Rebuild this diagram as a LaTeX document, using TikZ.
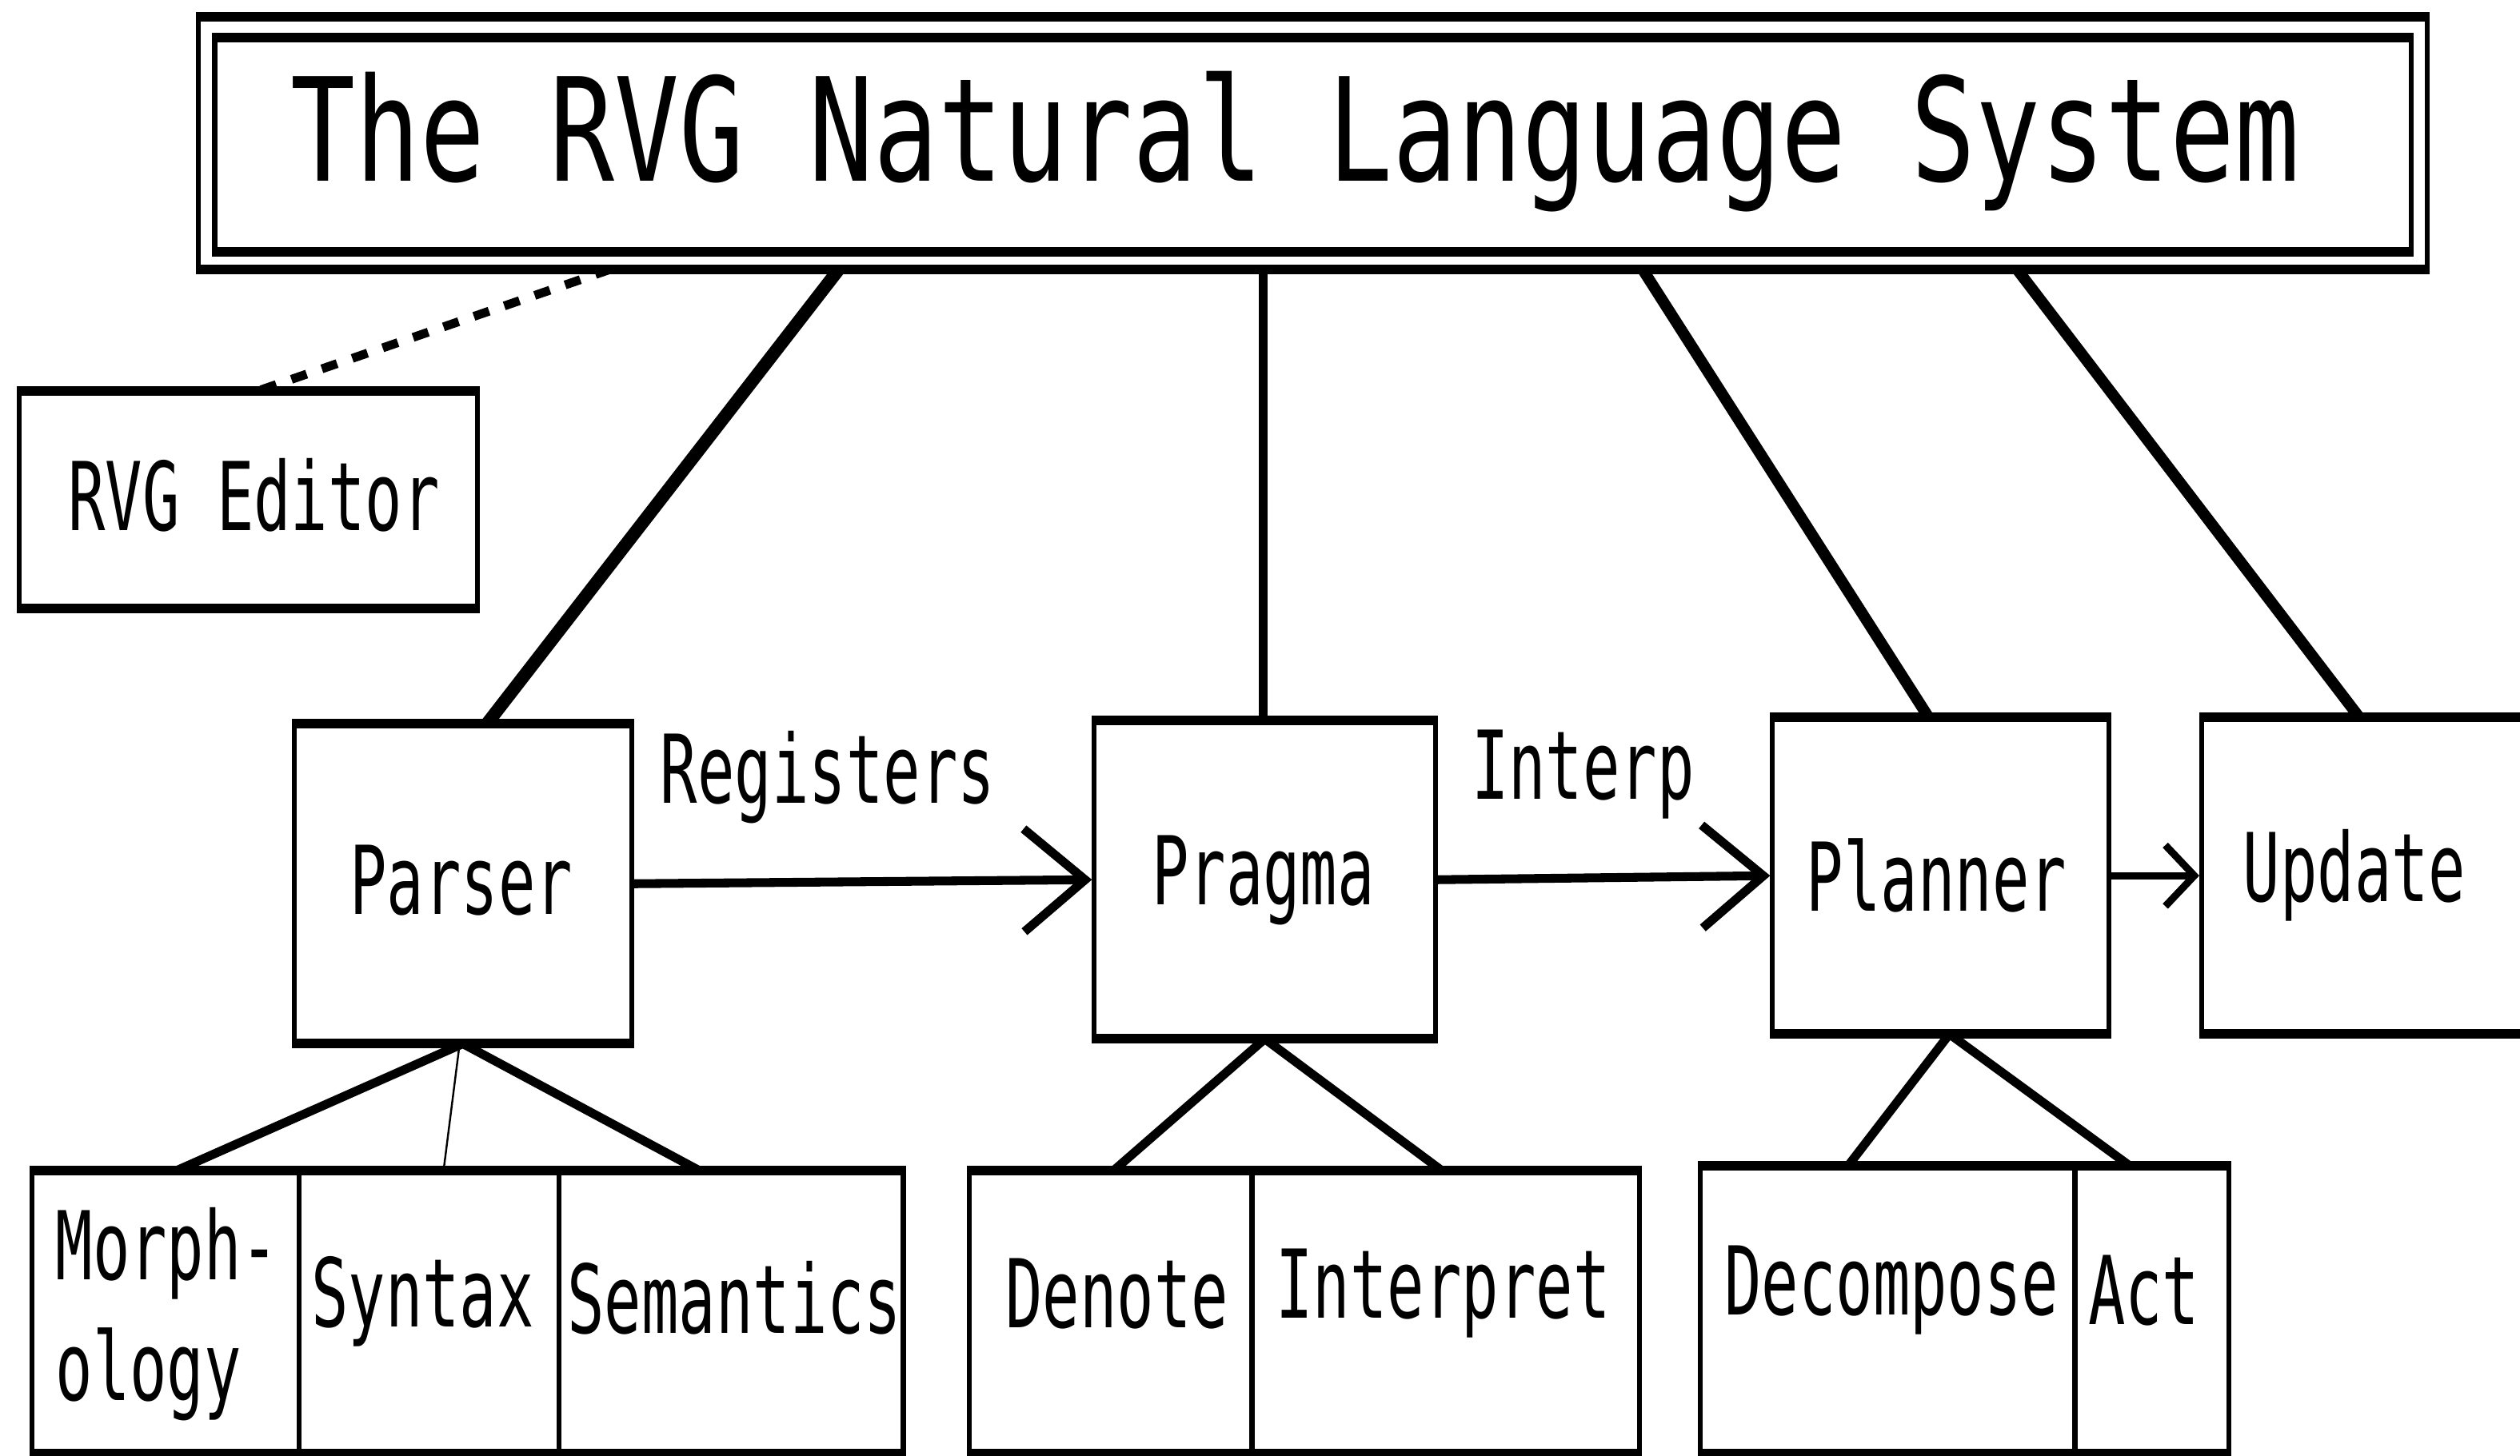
\documentclass[tikz,border=0pt]{standalone}
\usepackage{fontspec}
\usetikzlibrary{arrows.meta}
\newfontfamily\pixsmall[FakeStretch=0.65]{DejaVu Sans Mono}
\newfontfamily\pixbig[FakeStretch=0.75]{DejaVu Sans Mono}
\newcommand\hedges[1]{\draw[hline] (#1.north west) -- (#1.north east) (#1.south west) -- (#1.south east);}
\begin{document}
\begin{tikzpicture}[x=0.01cm,y=-0.01cm,
  box/.style={draw, line width=0.03cm, inner sep=0pt, anchor=center},
  hline/.style={line width=0.06cm},
  lbl/.style={inner sep=0pt, font=\pixsmall\fontsize{16.8}{21}\selectfont},
  ttl/.style={inner sep=0pt, font=\pixbig\fontsize{25.4}{30}\selectfont},
  heavy/.style={line width=0.08cm},
  medium/.style={line width=0.07cm},
  stem/.style={line width=0.05cm},
  branch/.style={line width=0.055cm},
  flow/.style={line width=0.055cm, -{Straight Barb[length=0.38cm,width=0.64cm]}},
  shortflow/.style={line width=0.045cm, -{Straight Barb[length=0.18cm,width=0.38cm]}},
  dots/.style={line width=0.055cm, dash pattern=on 0.1cm off 0.1cm}]
\clip (0,0) rectangle (1568,906);
\fill[white] (0,0) rectangle (1568,906);

% title
\node[box, minimum width=13.86cm, minimum height=1.54cm] (title) at (817,89) {};
\node[box, minimum width=13.66cm, minimum height=1.30cm] (titlein) at (817,90) {};
\hedges{title}
\hedges{titlein}
\node[ttl] (titletext) at (806,88) {The RVG Natural Language System};

% RVG editor
\node[box, minimum width=2.85cm, minimum height=1.32cm] (editor) at (154.5,311) {};
\hedges{editor}
\node[lbl] (editortext) at (158,308) {RVG Editor};

% main row
\node[box, minimum width=2.10cm, minimum height=1.96cm] (parser) at (288,550) {};
\hedges{parser}
\node[lbl] (parsertext) at (287,548) {Parser};
\node[box, minimum width=2.12cm, minimum height=1.95cm] (pragma) at (787,547.5) {};
\hedges{pragma}
\node[lbl] (pragmatext) at (786,548) {Pragma};
\node[box, minimum width=2.09cm, minimum height=1.94cm] (planner) at (1207.5,545) {};
\hedges{planner}
\node[lbl] (plannertext) at (1205,545) {Planner};
\node[box, minimum width=2.30cm, minimum height=1.94cm] (update) at (1485,545) {};
\hedges{update}
\node[lbl] (updatetext) at (1465,545) {Update};

% parser children
\node[box, minimum width=1.66cm, minimum height=1.73cm] (morph) at (103,816.5) {};
\node[box, minimum width=1.62cm, minimum height=1.73cm] (syntax) at (267,816.5) {};
\node[box, minimum width=2.14cm, minimum height=1.73cm] (semantics) at (455,816.5) {};
\hedges{morph}\hedges{syntax}\hedges{semantics}
\node[lbl, align=left, font=\pixsmall\fontsize{16.8}{21.3}\selectfont] (morphtext) at (104,818) {Morph-\\ology};
\node[lbl] (syntaxtext) at (263,810) {Syntax};
\node[lbl] (semanticstext) at (457,808) {Semantics};

% pragma children
\node[box, minimum width=1.76cm, minimum height=1.73cm] (denote) at (691,816.5) {};
\node[box, minimum width=2.41cm, minimum height=1.73cm] (interpret) at (899.5,816.5) {};
\hedges{denote}\hedges{interpret}
\node[lbl] (denotetext) at (695,805) {Denote};
\node[lbl] (interprettext) at (898,805) {Interpret};

% planner children
\node[box, minimum width=2.33cm, minimum height=1.76cm] (decompose) at (1174.5,815) {};
\node[box, minimum width=0.96cm, minimum height=1.76cm] (act) at (1339,815) {};
\hedges{decompose}\hedges{act}
\node[lbl] (decomposetext) at (1177,803) {Decompose};
\node[lbl] (acttext) at (1334,803) {Act};

% connectors from title
\draw[dots] (title.south -| 380,0) -- (editor.north -| 160,0);
\draw[heavy] (title.south -| 522,0) -- (parser.north -| 303,0);
\draw[stem] (title.south -| 786,0) -- (pragma.north -| 786,0);
\draw[medium] (title.south -| 1022,0) -- (planner.north -| 1200,0);
\draw[medium] (title.south -| 1255,0) -- (update.north -| 1468,0);

% flow arrows
\draw[flow] (parser.east) -- (pragma.west);
\node[lbl] (registers) at (515,484) {Registers};
\draw[flow] (pragma.east) -- (planner.west);
\node[lbl] (interp) at (985,482) {Interp};
\draw[shortflow] (planner.east) -- (update.west);

% children connectors
\draw[branch] (parser.south) -- (morph.north -| 110,0);
\draw[branch] (parser.south) -- (semantics.north -| 435,0);
\draw[line width=0.012cm] (parser.south -| 286,0) -- (syntax.north -| 276,0);
\draw[branch] (pragma.south) -- (denote.north -| 693,0);
\draw[branch] (pragma.south) -- (interpret.north -| 897,0);
\draw[branch] (planner.south -| 1213,0) -- (decompose.north -| 1150,0);
\draw[branch] (planner.south -| 1213,0) -- (act.north -| 1325,0);
\end{tikzpicture}
\end{document}
